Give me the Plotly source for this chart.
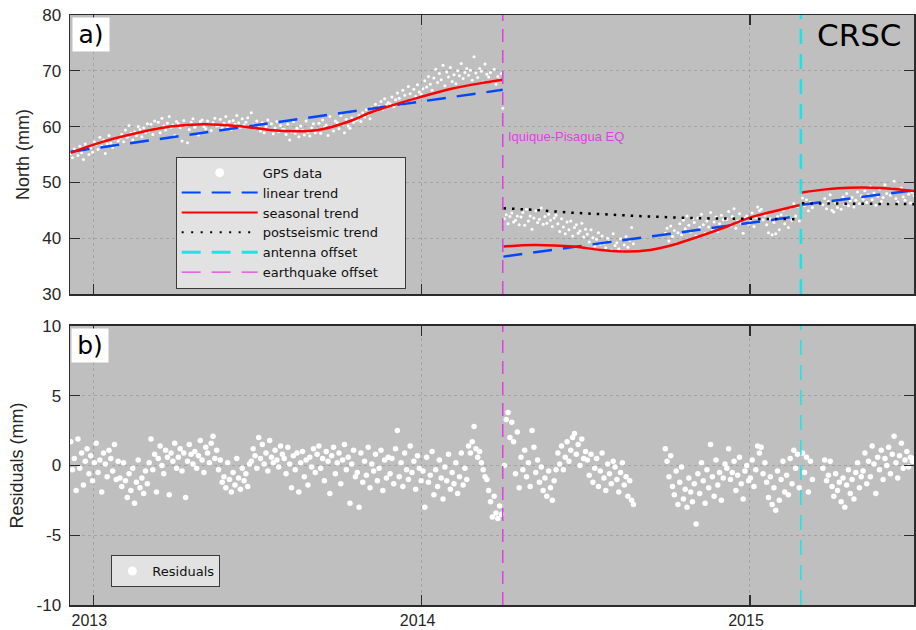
import numpy as np
import plotly.graph_objects as go
from plotly.subplots import make_subplots

# ---------------- sampling windows (decimal years) ----------------
SEG_PRE = (2012.931, 2014.243)
SEG_EQDAY = (2014.247, 2014.247)
SEG_A = (2014.252, 2014.645)
SEG_B = (2014.742, 2015.150)
SEG_C1 = (2015.160, 2015.190)
SEG_C2 = (2015.222, 2015.500)

EQ_DATE = 2014.247
ANTENNA_DATE = 2015.155

# ---------------- GPS north component (mm) ----------------
north_pre = [
    55.2, 54.4, 56.0, 55.7, 54.8, 56.5, 55.3, 54.1, 56.9, 55.9, 55.0,
    56.2, 55.4, 57.3, 56.8, 55.9, 58.1, 56.5, 57.6, 55.2, 56.9, 58.4, 57.0, 56.3, 57.8, 56.6, 57.4,
    57.9, 58.6, 57.3, 59.4, 58.1, 60.2, 58.8, 57.6, 59.1, 58.4, 60.0, 59.5, 58.2, 59.8, 58.9, 60.5,
    59.2, 60.4, 58.6, 61.0, 59.7, 60.8, 58.9, 61.5, 60.1, 59.4, 60.6, 61.8, 59.9, 60.3, 58.4, 60.9,
    60.5, 59.8, 57.4, 61.1, 60.2, 57.1, 59.5, 60.8, 61.4, 59.9, 60.3, 58.5, 60.9, 61.2, 60.0, 59.6,
    61.0, 60.4, 59.3, 60.7, 61.5, 60.1,
    60.2, 61.3, 59.8, 60.6, 61.8, 60.0, 60.9, 59.5, 61.1, 60.4, 62.0, 60.7, 59.9, 61.4, 60.3, 60.8,
    61.6, 60.1,
    62.5, 60.3, 59.6, 61.0, 60.2, 59.2, 60.7, 58.9, 60.0, 61.2, 59.4, 60.5, 58.7, 59.8, 60.9, 59.1,
    60.2, 59.5,
    59.5, 58.6, 60.4, 57.6, 59.1, 60.9, 58.8, 59.7, 58.2, 60.1, 59.3, 58.5, 61.0, 59.0, 58.3, 59.8,
    60.5, 58.9,
    59.4, 60.6, 58.8, 61.2, 59.9, 60.3, 58.4, 61.8, 60.0, 59.2, 61.0, 60.7, 59.6, 62.0, 60.4, 58.9,
    61.3, 60.1, 59.7, 61.6, 60.8, 61.1,
    61.2, 62.0, 60.9, 62.5, 61.7, 63.0, 62.2, 61.4, 63.4, 62.7, 64.0, 62.9, 63.6, 64.5, 63.1, 65.0,
    63.9, 64.3,
    64.1, 65.3, 63.6, 64.8, 66.0, 65.1, 63.9, 66.5, 65.6, 64.5, 67.2, 65.9, 64.9, 66.7, 65.4, 67.5,
    66.2, 65.8,
    66.8, 68.2, 67.1, 69.0, 67.6, 66.5, 68.7, 70.3, 67.9, 69.5, 68.4, 71.0, 67.3, 69.8, 68.9, 70.6,
    68.1, 69.3, 67.7, 70.0, 69.1, 71.3, 68.6, 69.7, 70.4,
    69.2, 70.1, 68.3, 72.5, 69.6, 68.8, 70.4, 69.9, 68.0, 71.2, 69.4,
    68.9, 69.7, 68.1, 70.3, 67.6, 69.0, 68.4, 69.5,
]
north_eqday = [63.3]
north_a = [
    43.5, 44.2, 42.6, 43.9, 44.5, 42.9, 43.2, 44.0, 42.4,
    43.8, 44.6, 42.3, 45.2, 43.1, 44.0, 41.6, 43.6, 44.9, 42.8, 43.4, 45.4, 42.5,
    43.9, 42.7, 44.3, 43.2, 42.1, 43.6, 44.1,
    42.6, 41.2, 43.5, 42.0, 40.8, 42.9, 41.5, 43.1, 40.4, 41.9, 42.4, 40.9, 41.3, 42.7, 40.2, 41.6,
    40.7, 39.3, 41.5, 40.1, 38.6, 39.8, 41.0, 38.9, 40.4, 39.1, 38.3, 40.0, 39.5, 37.9, 40.8, 38.7,
    39.2, 38.1, 39.9, 37.6, 38.8, 40.3, 38.4, 39.6, 41.9, 39.0,
]
north_b = [
    40.9, 41.8, 39.5, 42.2, 40.3, 41.4, 39.0, 41.0, 42.6, 40.6, 43.2, 41.7, 44.0, 42.3, 41.1, 43.5,
    42.8, 40.4, 43.6, 41.9, 44.3, 42.4, 40.9, 43.1, 42.0, 44.6, 41.5, 42.9, 43.8, 41.2, 42.6, 44.1,
    43.3, 42.1,
    43.4, 44.8, 42.2, 43.9, 45.3, 41.8, 43.1, 44.4, 42.7, 40.9, 43.6, 44.0, 42.5,
    43.0, 44.5, 42.1, 43.7, 45.6, 44.9, 45.2, 43.3, 44.1, 42.4, 41.0, 43.5, 40.6, 42.8, 40.8, 43.9,
    41.5, 44.2, 45.0, 42.6, 43.8, 41.9, 45.4, 43.2, 46.2, 44.0, 45.7, 43.1,
]
north_c1 = [47.2, 45.8, 46.9, 44.9, 46.4, 45.5]
north_c2 = [
    46.0, 47.1, 45.3, 46.6, 47.8, 45.0, 44.7, 46.3, 45.5, 46.9, 45.2, 47.4, 46.1, 48.0, 45.8, 46.7,
    47.3, 45.6, 46.8, 48.3, 46.2, 47.6,
    47.0, 48.5, 46.4, 47.8, 49.2, 46.9, 48.1, 45.9, 47.5, 48.8, 46.6, 47.3, 49.6, 48.0, 46.2, 47.7,
    48.9, 50.2, 47.1, 46.5, 48.4, 49.0, 47.4, 46.8, 48.6, 47.9, 46.3, 48.2, 47.6,
]

# ---------------- residuals (mm) ----------------
resid_pre = [
    1.7, -0.3, 0.5, -1.8, 1.9, -0.2, 0.9, -1.4, 0.3, 1.2, -0.6,
    0.7, -1.1, 0.2, 1.6, -0.5, 0.4, -1.9, 0.9, 0.1, -0.8, 1.1, 0.5, -0.4, 1.5, -1.0, 0.3,
    -0.9, -1.5, 0.2, -1.1, -2.3, -0.6, -1.8, -0.2, -2.7, -1.2, 0.4, -1.6, -0.9, -2.0, -0.4, -1.3,
    0.2, 1.9, -0.3, 0.8, -1.9, 0.5, 1.4, 0.0, -0.6, 1.1, 0.6, -2.1, 0.9, 0.3, 1.6, -0.2,
    0.6, 1.2, -0.4, 0.9, -2.3, 0.3, 1.5, 0.8, 0.1, 1.0, -0.2, 0.7, 1.8, 0.4, -0.5, 1.3, 0.9, 0.2,
    1.6, 2.1, 0.5, 1.1,
    -0.3, 0.4, -1.2, -0.8, -1.6, 0.2, -1.0, -1.9, -0.5, -1.4, 0.5, -0.9, -1.7, -0.2, -1.1, -0.6,
    -1.5, 0.1,
    0.3, 1.2, 0.7, -0.2, 2.0, 0.5, 1.5, 0.1, 0.9, -0.4, 1.8, 0.6, 0.2, 1.1, 0.4, -0.1, 1.4, 0.8,
    0.5, -0.6, 1.3, 0.1, -1.6, 0.7, -0.3, 0.9, -1.9, 0.2, 1.0, -0.8, 0.4, -1.4, 0.6, -0.1, 1.2, -0.5,
    0.8, 1.4, -0.2, 0.5, -1.1, 1.0, 0.3, -2.0, 0.7, 1.3, -0.6, 0.2, 0.9, -1.3, 0.4, 1.5, -0.3, 0.6,
    -2.7, 0.1, 1.1, -0.8,
    -0.5, -3.0, 0.9, -1.2, 0.3, -0.7, 1.3, -1.6, 0.1, -0.4, 0.8, -1.1, -0.2, 1.1, -1.8, 0.4, -0.9, 0.6,
    -0.6, 0.5, -1.3, 1.2, 2.5, -0.8, 0.2, -1.5, 0.9, -0.3, -1.0, 1.4, -0.5, 0.3, -1.7, 0.7, -0.2, -1.1,
    -0.4, -3.0, 0.6, -1.2, -0.7, 1.0, -2.1, -0.3, -1.5, 0.4, -0.9, -2.4, -0.1, -1.1, 0.8, -1.7,
    -0.5, -1.3, 0.2, -2.0, -0.8, 0.9, -1.4, -0.2, -1.0,
    1.4, 0.9, 1.7, 2.8, 1.2, 0.6, 1.0, 0.2, -0.3, -0.8, -1.0,
    -1.8, -2.6, -3.7, -2.2, -3.4, -3.8, -2.9, -3.5,
]
resid_a = [
    0.0, 3.3, 3.8, 2.0, 3.1, 1.7, -0.6, 2.4, -1.6,
    0.6, -0.3, 1.1, -0.8, 0.2, -1.5, 2.5, 1.3, -0.5, 0.4, -1.2, -0.1, -1.8,
    -0.9, -2.2, -0.4, -1.6, -2.5, -1.1, -0.3,
    0.9, 0.1, 1.4, -0.3, 0.6, 1.7, 0.3, 1.1, 2.0, 2.3, 0.8, 1.5, 0.0, 1.9, 0.5, 1.0,
    0.4, -0.7, 0.8, -1.2, -0.2, 0.5, -1.5, -0.4, 0.9, -0.9, -1.8, 0.1, -0.6, -1.3, 0.3, -0.1,
    -1.0, -1.9, -0.5, 0.2, -1.4, -0.8, -2.2, -1.1, -2.5, -2.8,
]
resid_b = [
    1.2, 0.3, -0.8, 0.7, -1.5, -2.1, -0.4, -2.8, -1.2, -0.1, -2.4, -1.7, -3.0, -0.9, -1.9, -2.6,
    -1.3, -4.2, -0.6, -2.0, 0.2, -1.1, -2.7, -0.3, -1.6, 1.5, -0.8, -2.2, 0.4, -1.4, -0.5, -2.5,
    -0.9, 0.1,
    -0.2, 1.2, -1.0, -0.5, 0.3, -1.8, -0.7, 0.6, -1.3, -2.4, -0.4, 0.0, -1.1,
    -0.9, 0.4, -1.5, -0.3, 1.4, 0.9, 1.3, -0.6, 0.2, -1.2, -2.3, -0.8, -2.8, -1.6, -3.2, -0.4,
    -2.5, -1.0, 0.3, -1.9, -0.7, -2.1, 0.5, -1.3, 1.1, -0.2, 0.8, -1.6,
]
resid_c1 = [0.9, -0.5, 0.6, -1.9, 0.3, -1.0]
resid_c2 = [
    -0.2, 0.4, -1.1, -0.7, 0.3, -1.5, -2.2, -0.6, -1.8, -1.2, -2.6, -0.9, -3.0, -1.4, -0.3, -2.0,
    -1.0, -2.4, -0.5, 0.2, -1.6, -0.8,
    -0.4, 0.9, -1.3, 0.3, -0.8, 1.4, 0.1, -2.0, 0.6, -0.3, 1.1, -1.0, 0.5, 0.0, 1.3, -0.6, 0.8,
    2.1, 0.2, -0.9, 0.7, 1.6, -0.2, 0.4, 1.0, -0.1, 0.6, 0.3, 0.5,
]

# ---------------- model curves ----------------
linear_pre_t, linear_pre_v = [2012.931, 2014.247], [55.5, 66.6]
linear_post_t, linear_post_v = [2014.249, 2015.153], [36.7, 44.0]
linear_ant_t, linear_ant_v = [2015.158, 2015.50], [46.0, 48.6]

seasonal_pre_t = [2012.931, 2013.03, 2013.13, 2013.234, 2013.335, 2013.437, 2013.538, 2013.584,
                  2013.685, 2013.787, 2013.838, 2013.888, 2013.99, 2014.091, 2014.193, 2014.247]
seasonal_pre_v = [55.3, 57.3, 58.8, 60.0, 60.4, 60.1, 59.4, 59.2,
                  59.4, 61.1, 62.4, 63.4, 65.2, 66.8, 67.9, 68.4]
seasonal_post_t = [2014.249, 2014.341, 2014.463, 2014.544, 2014.625, 2014.696, 2014.747, 2014.808,
                   2014.869, 2014.93, 2014.995, 2015.071, 2015.153]
seasonal_post_v = [38.5, 38.8, 38.5, 37.9, 37.6, 37.9, 38.5, 39.6,
                   40.8, 42.1, 43.6, 44.8, 45.95]
seasonal_ant_t = [2015.158, 2015.23, 2015.30, 2015.40, 2015.50]
seasonal_ant_v = [48.2, 48.75, 49.05, 49.0, 48.45]

postseis_t = [2014.249, 2014.348, 2014.45, 2014.552, 2014.653, 2014.755, 2014.857, 2014.95,
              2015.05, 2015.153]
postseis_v = [45.35, 45.05, 44.6, 44.3, 44.0, 43.75, 43.57, 43.5, 43.45, 43.4]
postseis_ant_t, postseis_ant_v = [2015.158, 2015.50], [46.25, 46.1]

year_ticks = [2013, 2014, 2015]
year_labels = ["2013", "2014", "2015"]
north_ticks = [30, 40, 50, 60, 70, 80]
north_labels = ["30", "40", "50", "60", "70", "80"]
resid_ticks = [-10, -5, 0, 5, 10]
resid_labels = ["-10", "-5", "0", "5", "10"]


def seg_x(seg, vals):
    return np.linspace(seg[0], seg[1], len(vals))


north_segments = [(SEG_PRE, north_pre), (SEG_EQDAY, north_eqday), (SEG_A, north_a),
                  (SEG_B, north_b), (SEG_C1, north_c1), (SEG_C2, north_c2)]
resid_segments = [(SEG_PRE, resid_pre), (SEG_A, resid_a), (SEG_B, resid_b),
                  (SEG_C1, resid_c1), (SEG_C2, resid_c2)]

north_x = np.concatenate([seg_x(s, v) for s, v in north_segments])
north_y = np.concatenate([v for s, v in north_segments])
resid_x = np.concatenate([seg_x(s, v) for s, v in resid_segments])
resid_y = np.concatenate([v for s, v in resid_segments])

BLUE = "#0047ff"
RED = "#ff0000"
CYAN = "#18e6e6"
MAGENTA = "#e23fe2"
AX = "#2b2b2b"
LEG_DASH = "19px,11px"
PAD = "\u00a0" * 5

fig = make_subplots(rows=2, cols=1)

fig.add_trace(go.Scatter(x=north_x, y=north_y, mode="markers",
                         marker=dict(color="white", size=3), showlegend=False), row=1, col=1)

for t, v in [(linear_pre_t, linear_pre_v), (linear_post_t, linear_post_v), (linear_ant_t, linear_ant_v)]:
    fig.add_trace(go.Scatter(x=t, y=v, mode="lines", line=dict(color=BLUE, width=2.5, dash=LEG_DASH),
                             showlegend=False), row=1, col=1)
for t, v in [(seasonal_pre_t, seasonal_pre_v), (seasonal_post_t, seasonal_post_v), (seasonal_ant_t, seasonal_ant_v)]:
    fig.add_trace(go.Scatter(x=t, y=v, mode="lines", line=dict(color=RED, width=2.5, shape="spline"),
                             showlegend=False), row=1, col=1)
for t, v in [(postseis_t, postseis_v), (postseis_ant_t, postseis_ant_v)]:
    fig.add_trace(go.Scatter(x=t, y=v, mode="lines",
                             line=dict(color="black", width=2.5, dash="2.5px,6px", shape="spline"),
                             showlegend=False), row=1, col=1)

fig.add_trace(go.Scatter(x=resid_x, y=resid_y, mode="markers",
                         marker=dict(color="white", size=5.5), showlegend=False), row=2, col=1)

legend_entries = [
    dict(name="GPS data", mode="markers", marker=dict(color="white", size=9)),
    dict(name="linear trend", mode="lines", line=dict(color=BLUE, width=2, dash=LEG_DASH)),
    dict(name="seasonal trend", mode="lines", line=dict(color=RED, width=2)),
    dict(name="postseismic trend" + PAD, mode="lines", line=dict(color="black", width=2, dash="2px,7.5px")),
    dict(name="antenna offset", mode="lines", line=dict(color=CYAN, width=3, dash=LEG_DASH)),
    dict(name="earthquake offset", mode="lines", line=dict(color=MAGENTA, width=1.3, dash=LEG_DASH)),
]
for e in legend_entries:
    fig.add_trace(go.Scatter(x=[None], y=[None], legend="legend", **e), row=1, col=1)
fig.add_trace(go.Scatter(x=[None], y=[None], name="Residuals", mode="markers",
                         marker=dict(color="white", size=9), legend="legend2"), row=2, col=1)

fig.add_vline(x=EQ_DATE, line=dict(color=MAGENTA, width=1.5, dash="13px,8px"), layer="above", row=1, col=1)
fig.add_vline(x=EQ_DATE, line=dict(color=MAGENTA, width=1.5, dash="13px,8px"), layer="above", row=2, col=1)
fig.add_vline(x=ANTENNA_DATE, line=dict(color=CYAN, width=2.5, dash="15px,10px"), layer="above", row=1, col=1)
fig.add_vline(x=ANTENNA_DATE, line=dict(color=CYAN, width=1.5, dash="15px,10px"), layer="above", row=2, col=1)

axis_common = dict(showline=True, linecolor=AX, linewidth=1.5, mirror="ticks", ticks="inside",
                   ticklen=10, tickwidth=1.2, tickcolor=AX, showgrid=True, gridcolor="#a3a3a3",
                   griddash="dot", gridwidth=1, zeroline=False, automargin=False)

xr = [2012.929, 2015.4995]
fig.update_xaxes(range=xr, tickvals=year_ticks, ticktext=year_labels, **axis_common)
fig.update_xaxes(showticklabels=False, row=1, col=1)
fig.update_xaxes(showticklabels=True, ticklabelshift=-4, ticklabelstandoff=0,
                 tickfont=dict(size=16), row=2, col=1)
fig.update_yaxes(tickfont=dict(size=17), ticklabelstandoff=4, **axis_common)
fig.update_yaxes(range=[30, 80], tickvals=north_ticks, ticktext=north_labels, domain=[0.5271, 1.0],
                 title=dict(text="North (mm)", font=dict(size=18), standoff=8), row=1, col=1)
fig.update_yaxes(range=[-10, 10], tickvals=resid_ticks, ticktext=resid_labels, domain=[0.0, 0.4729],
                 title=dict(text="Residuals (mm)", font=dict(size=18), standoff=8), row=2, col=1)

fig.update_layout(
    width=916, height=630,
    margin=dict(l=70, r=2, t=15, b=25, autoexpand=False),
    paper_bgcolor="white", plot_bgcolor="#bfbfbf",
    font=dict(family="Liberation Sans, Arial, sans-serif", color="#262626", size=17),
    legend=dict(x=0.1252, y=0.7598, xanchor="left", yanchor="top", bgcolor="#e2e2e2",
                bordercolor="#3a3a3a", borderwidth=1, itemwidth=76,
                font=dict(family="DejaVu Sans", size=13, color="#111111")),
    legend2=dict(x=0.049, y=0.0847, xanchor="left", yanchor="top", bgcolor="#e2e2e2",
                 bordercolor="#3a3a3a", borderwidth=1,
                 font=dict(family="DejaVu Sans", size=13, color="#111111")),
    annotations=[
        dict(text="a)", xref="x domain", yref="y domain", x=0, y=1, xanchor="left", yanchor="top",
             xshift=2, yshift=-2, showarrow=False, bgcolor="white", width=36, height=33, borderpad=0,
             font=dict(family="DejaVu Sans", size=25, color="black")),
        dict(text="b)", xref="x2 domain", yref="y2 domain", x=0, y=1, xanchor="left", yanchor="top",
             xshift=1, yshift=-2, showarrow=False, bgcolor="white", width=36, height=33, borderpad=0,
             font=dict(family="DejaVu Sans", size=25, color="black")),
        dict(text="CRSC", xref="x domain", yref="y domain", x=1, y=0.930, xanchor="right",
             yanchor="middle", xshift=-10, showarrow=False,
             font=dict(family="DejaVu Sans", size=31, color="black")),
        dict(text="Iquique-Pisagua EQ", xref="x", yref="y domain", x=EQ_DATE, y=0.564,
             xanchor="left", yanchor="middle", xshift=3, showarrow=False,
             font=dict(family="Liberation Sans", size=13, color=MAGENTA)),
    ],
)

fig.write_html("out.html", config={"displayModeBar": False, "staticPlot": True},
               post_script="document.body.style.margin='0px';")
